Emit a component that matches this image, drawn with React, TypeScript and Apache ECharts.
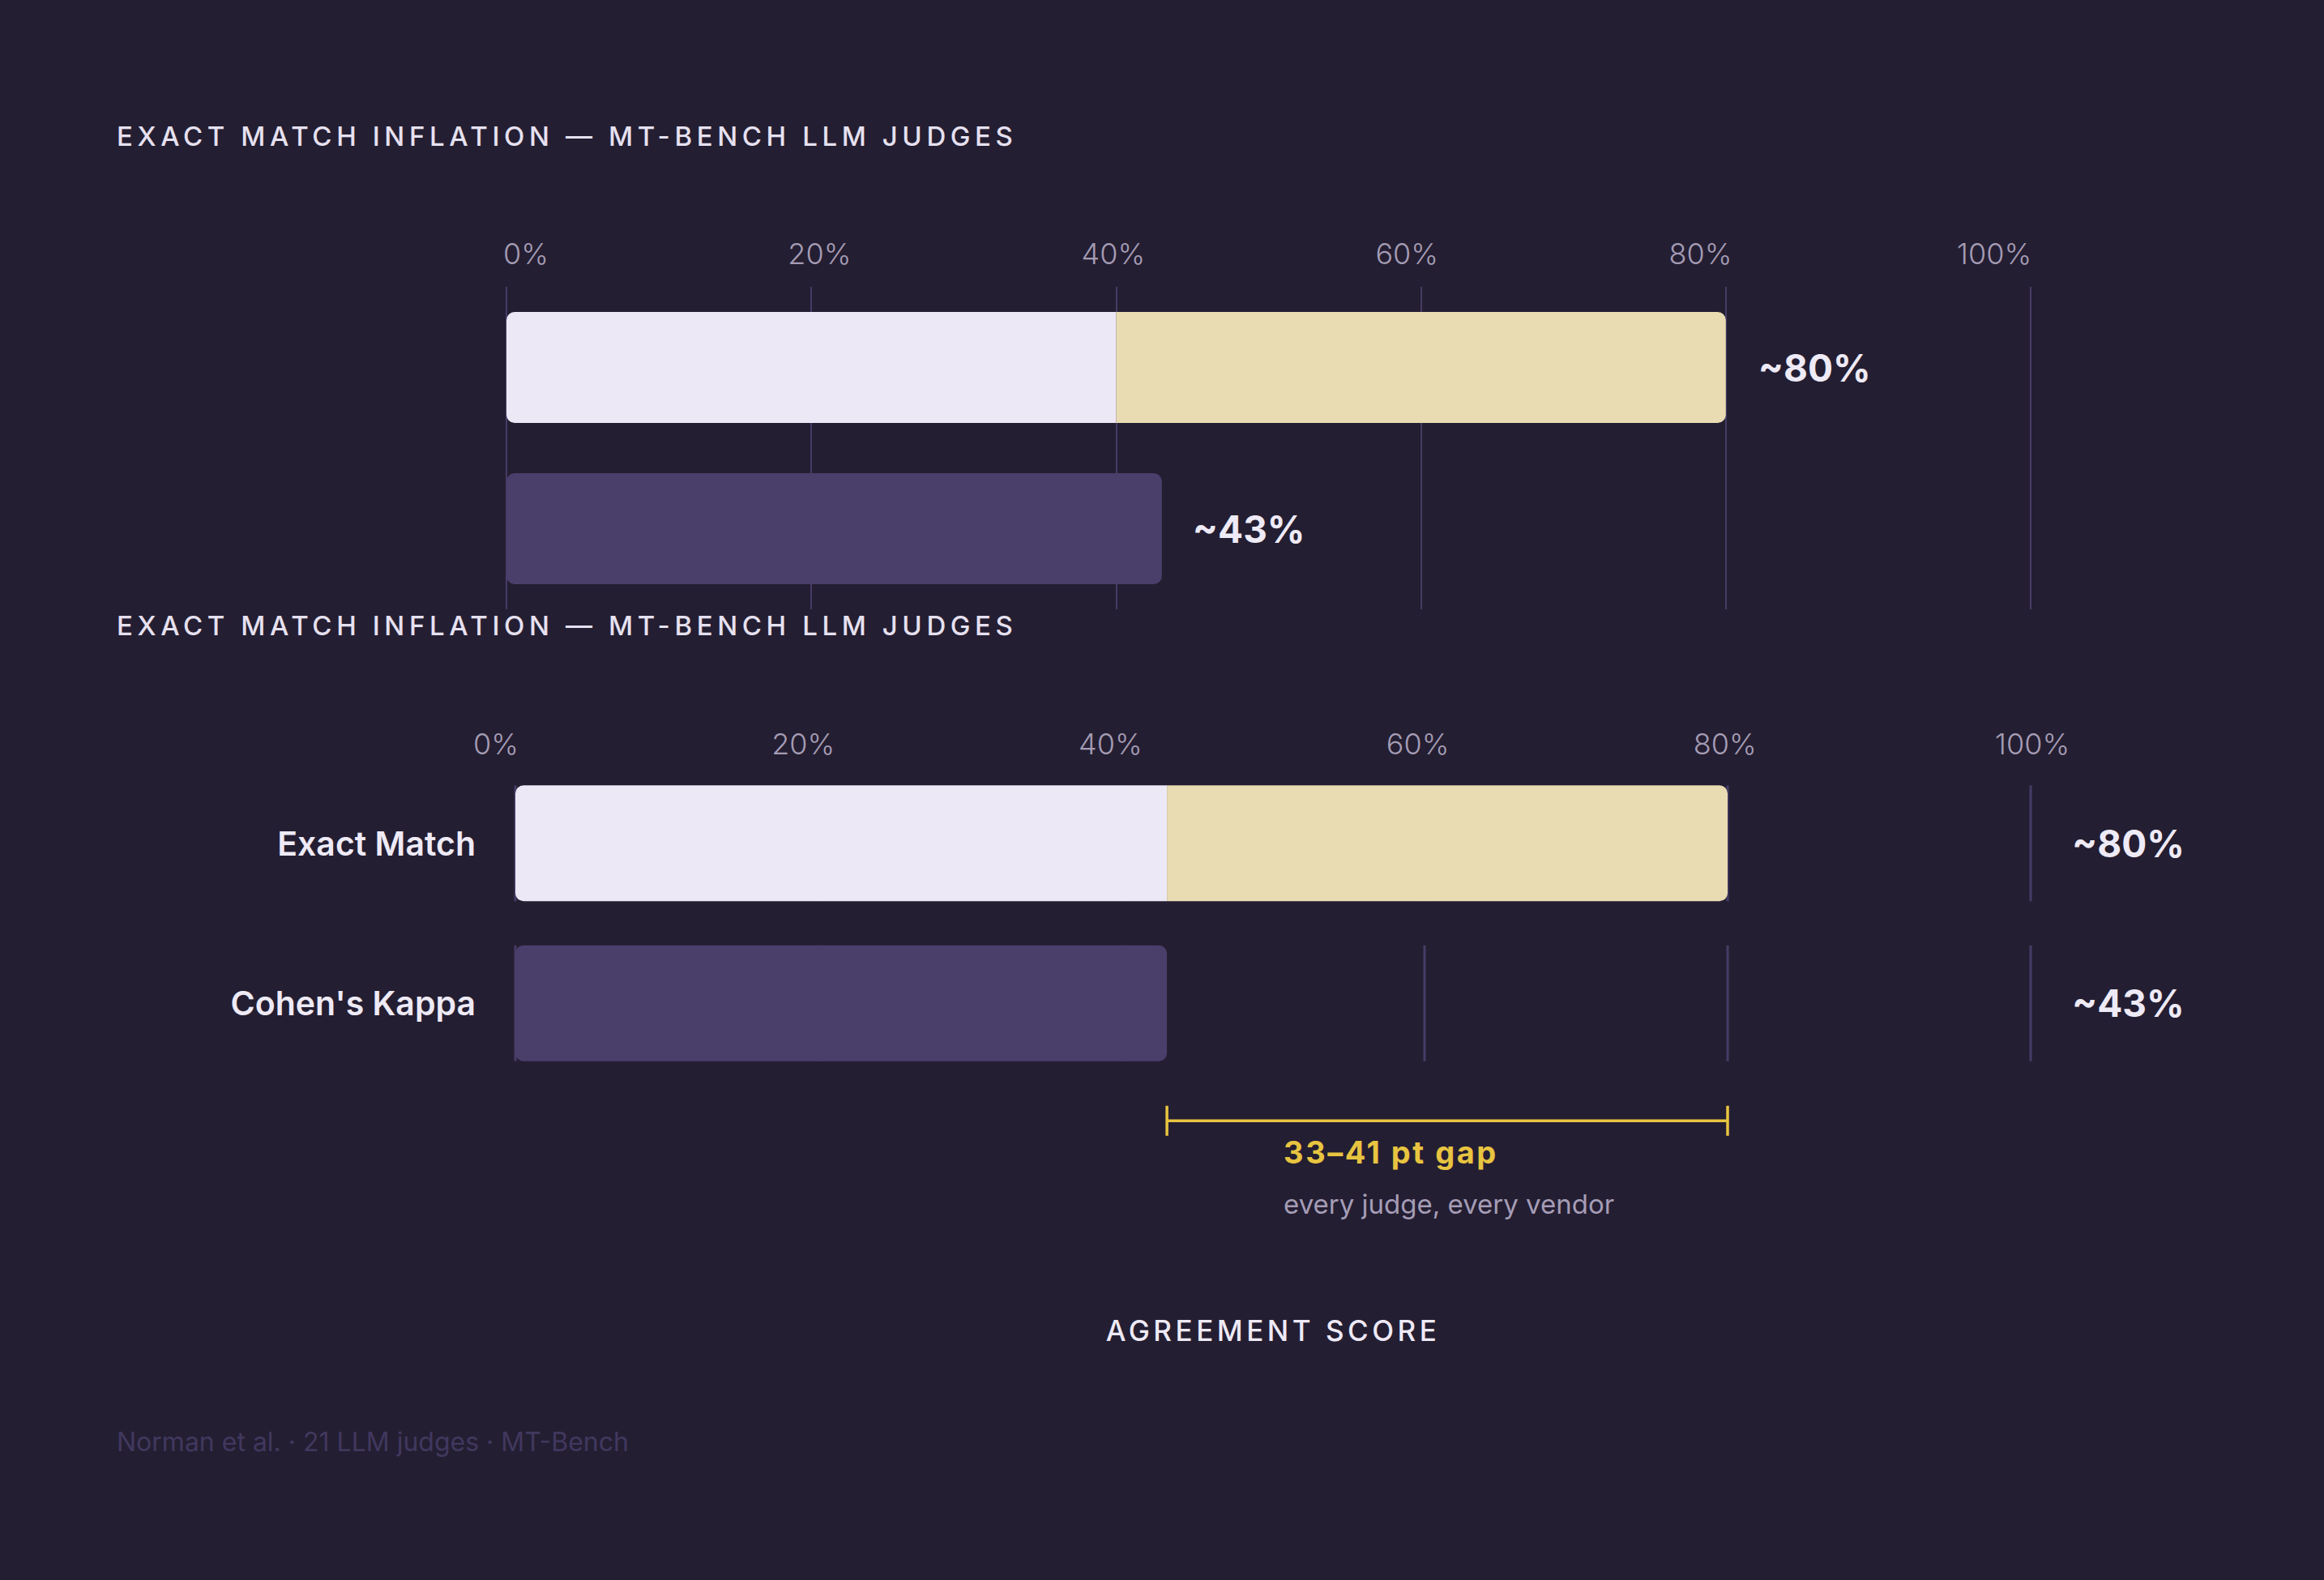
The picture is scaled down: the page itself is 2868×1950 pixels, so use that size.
import { useEffect, useRef } from 'react'
import * as echarts from 'echarts'

const categories = ['Exact Match', "Cohen's Kappa"]
const scores = [80, 43]
// the upper panel splits the exact-match bar at 40%
const upperSplit = 40
const ticks = [0, 20, 40, 60, 80, 100]
const tickLabels = ['0%', '20%', '40%', '60%', '80%', '100%']
const gapRange = [43, 80]
const gapTitle = '33–41 pt gap'
const gapNote = 'every judge, every vendor'
const chartTitle = 'EXACT MATCH INFLATION — MT-BENCH LLM JUDGES'
const axisTitle = 'AGREEMENT SCORE'
const source = 'Norman et al. · 21 LLM judges · MT-Bench'

const BG = '#241e32'
const LIGHT = '#ece8f6'
const CREAM = '#e9dbb2'
const PURPLE = '#4a3f6b'
const GRID_LINE = '#463c66'
const YELLOW = '#e8c440'
const TICK = '#a49cb4'
const TEXT = '#eeeaf6'
const NOTE = '#a59db6'
const FOOT = '#41385f'
const FONT = 'Inter, "Noto Sans", sans-serif'

const valueLabel = (p: any) => `~${scores[p.dataIndex]}%`

export default function App() {
  const containerRef = useRef<HTMLDivElement>(null)

  useEffect(() => {
    const el = containerRef.current
    if (!el) return
    document.body.style.margin = '0'
    document.body.style.overflow = 'hidden'

    const chart = echarts.init(el, null, { renderer: 'svg' })

    const hiddenValueAxis = {
      type: 'value' as const,
      min: 0,
      max: 100,
      interval: 20,
      axisLine: { show: false },
      axisTick: { show: false },
      axisLabel: { show: false },
      splitLine: { show: false },
    }
    const tickLabelAxis = (gridIndex: number, margin: number) => ({
      ...hiddenValueAxis,
      gridIndex,
      position: 'top' as const,
      axisLabel: {
        show: true,
        margin,
        verticalAlign: 'middle' as const,
        color: TICK,
        fontSize: 36,
        fontWeight: 300,
        fontFamily: FONT,
        formatter: (v: number) => tickLabels[ticks.indexOf(v)] ?? '',
      },
    })

    const rowLines: number[][] = []
    categories.forEach((_, i) => ticks.forEach((t) => rowLines.push([t, i])))

    const titleStyle = {
      text: chartTitle,
      fill: '#e6e1f0',
      fontSize: 33,
      fontWeight: 500,
      fontFamily: FONT,
      verticalAlign: 'middle',
    }

    const option: echarts.EChartsOption = {
      backgroundColor: BG,
      animation: false,
      textStyle: { fontFamily: FONT },
      graphic: [
        { type: 'text', x: 144, y: 168, style: titleStyle },
        { type: 'text', x: 144, y: 772, style: titleStyle },
        {
          type: 'text',
          x: 144,
          y: 1779,
          style: { text: source, fill: FOOT, fontSize: 32, fontFamily: FONT, verticalAlign: 'middle' },
        },
      ],
      grid: [
        { left: 625, right: 362, top: 354, height: 398 },
        { left: 649, right: 407, top: 354, height: 398 },
        { left: 636, right: 362, top: 942, height: 395 },
        { left: 612, right: 360, top: 942, height: 395 },
      ],
      xAxis: [
        {
          ...hiddenValueAxis,
          gridIndex: 0,
          position: 'top',
          splitLine: { show: true, lineStyle: { color: GRID_LINE, width: 2 } },
        },
        tickLabelAxis(1, 41),
        {
          ...hiddenValueAxis,
          gridIndex: 2,
          position: 'bottom',
          name: axisTitle,
          nameLocation: 'middle',
          nameGap: 305,
          nameTextStyle: { color: TEXT, fontSize: 35, fontWeight: 500, fontFamily: FONT, verticalAlign: 'middle' },
        },
        tickLabelAxis(3, 24),
      ],
      yAxis: [
        {
          gridIndex: 0,
          type: 'category',
          data: categories,
          inverse: true,
          axisLine: { show: false },
          axisTick: { show: false },
          axisLabel: { show: false },
        },
        { gridIndex: 1, type: 'category', data: categories, show: false },
        {
          gridIndex: 2,
          type: 'category',
          data: categories,
          inverse: true,
          axisLine: { show: false },
          axisTick: { show: false },
          axisLabel: { color: TEXT, fontSize: 41, fontWeight: 600, fontFamily: FONT, margin: 49 },
        },
        { gridIndex: 3, type: 'category', data: categories, show: false },
      ],
      series: [
        // upper panel
        {
          name: 'upper-base',
          type: 'bar',
          xAxisIndex: 0,
          yAxisIndex: 0,
          stack: 'upper',
          barWidth: 137,
          barGap: '-100%',
          label: {
            show: false,
            position: 'right',
            distance: 38,
            color: TEXT,
            fontSize: 46,
            fontWeight: 700,
            fontFamily: FONT,
            formatter: valueLabel,
          },
          data: [
            { value: upperSplit, itemStyle: { color: LIGHT, borderRadius: [10, 0, 0, 10] } },
            { value: scores[1], itemStyle: { color: PURPLE, borderRadius: 10 }, label: { show: true } },
          ],
        },
        {
          name: 'upper-gap',
          type: 'bar',
          xAxisIndex: 0,
          yAxisIndex: 0,
          stack: 'upper',
          barWidth: 137,
          barGap: '-100%',
          itemStyle: { color: CREAM, borderRadius: [0, 10, 10, 0] },
          label: {
            show: true,
            position: 'right',
            distance: 40,
            color: TEXT,
            fontSize: 46,
            fontWeight: 700,
            fontFamily: FONT,
            formatter: valueLabel,
          },
          data: [scores[0] - upperSplit, '-'],
        },
        // lower panel: grid lines only inside each row
        {
          name: 'row-lines',
          type: 'custom',
          xAxisIndex: 2,
          yAxisIndex: 2,
          silent: true,
          z: 1,
          encode: { x: 0, y: 1 },
          data: rowLines,
          renderItem: (_params: any, api: any) => {
            const p = api.coord([api.value(0), api.value(1)])
            return {
              type: 'line',
              shape: { x1: p[0], y1: p[1] - 71.5, x2: p[0], y2: p[1] + 71.5 },
              style: { stroke: GRID_LINE, lineWidth: 3 },
            }
          },
        },
        {
          name: 'lower-base',
          type: 'bar',
          xAxisIndex: 2,
          yAxisIndex: 2,
          stack: 'lower',
          barWidth: 143,
          barGap: '-100%',
          z: 3,
          data: [
            { value: gapRange[0], itemStyle: { color: LIGHT, borderRadius: [10, 0, 0, 10] } },
            { value: scores[1], itemStyle: { color: PURPLE, borderRadius: 10 } },
          ],
        },
        {
          name: 'lower-gap',
          type: 'bar',
          xAxisIndex: 2,
          yAxisIndex: 2,
          stack: 'lower',
          barWidth: 143,
          barGap: '-100%',
          z: 3,
          itemStyle: { color: CREAM, borderRadius: [0, 10, 10, 0] },
          data: [scores[0] - gapRange[0], '-'],
        },
        {
          name: 'lower-track',
          type: 'bar',
          xAxisIndex: 2,
          yAxisIndex: 2,
          barWidth: 143,
          barGap: '-100%',
          z: 0,
          silent: true,
          itemStyle: { color: 'rgba(0,0,0,0)' },
          label: {
            show: true,
            position: 'right',
            distance: 51,
            color: TEXT,
            fontSize: 46,
            fontWeight: 700,
            fontFamily: FONT,
            formatter: valueLabel,
          },
          data: categories.map(() => 100),
        },
        {
          name: 'gap-bracket',
          type: 'custom',
          xAxisIndex: 2,
          yAxisIndex: 2,
          silent: true,
          z: 4,
          encode: { x: [0, 1], y: 2 },
          data: [[gapRange[0], gapRange[1], 1]],
          renderItem: (_params: any, api: any) => {
            const a = api.coord([api.value(0), api.value(2)])
            const b = api.coord([api.value(1), api.value(2)])
            const y = a[1] + 145
            const stroke = { stroke: YELLOW, lineWidth: 3.5 }
            return {
              type: 'group',
              children: [
                { type: 'line', shape: { x1: a[0], y1: y, x2: b[0], y2: y }, style: stroke },
                { type: 'line', shape: { x1: a[0], y1: y - 18.5, x2: a[0], y2: y + 18.5 }, style: stroke },
                { type: 'line', shape: { x1: b[0], y1: y - 18.5, x2: b[0], y2: y + 18.5 }, style: stroke },
                {
                  type: 'text',
                  x: a[0] + 144,
                  y: y + 39,
                  style: {
                    text: gapTitle,
                    fill: YELLOW,
                    fontSize: 38,
                    fontWeight: 700,
                    fontFamily: FONT,
                    verticalAlign: 'middle',
                  },
                },
                {
                  type: 'text',
                  x: a[0] + 144,
                  y: y + 103,
                  style: {
                    text: gapNote,
                    fill: NOTE,
                    fontSize: 33,
                    fontFamily: FONT,
                    verticalAlign: 'middle',
                  },
                },
              ],
            }
          },
        },
      ],
    }

    // echarts has no letter-spacing option, so set it on the svg text nodes
    const spaceOut = () => {
      el.querySelectorAll('text').forEach((t) => {
        if (t.textContent === chartTitle) t.setAttribute('letter-spacing', '5.6')
        if (t.textContent === axisTitle) t.setAttribute('letter-spacing', '4.5')
        if (t.textContent === gapTitle) t.setAttribute('letter-spacing', '2.5')
      })
    }
    chart.on('finished', spaceOut)
    chart.setOption(option)
    spaceOut()

    return () => {
      chart.dispose()
    }
  }, [])

  return <div ref={containerRef} style={{ width: 2868, height: 1950 }} />
}
